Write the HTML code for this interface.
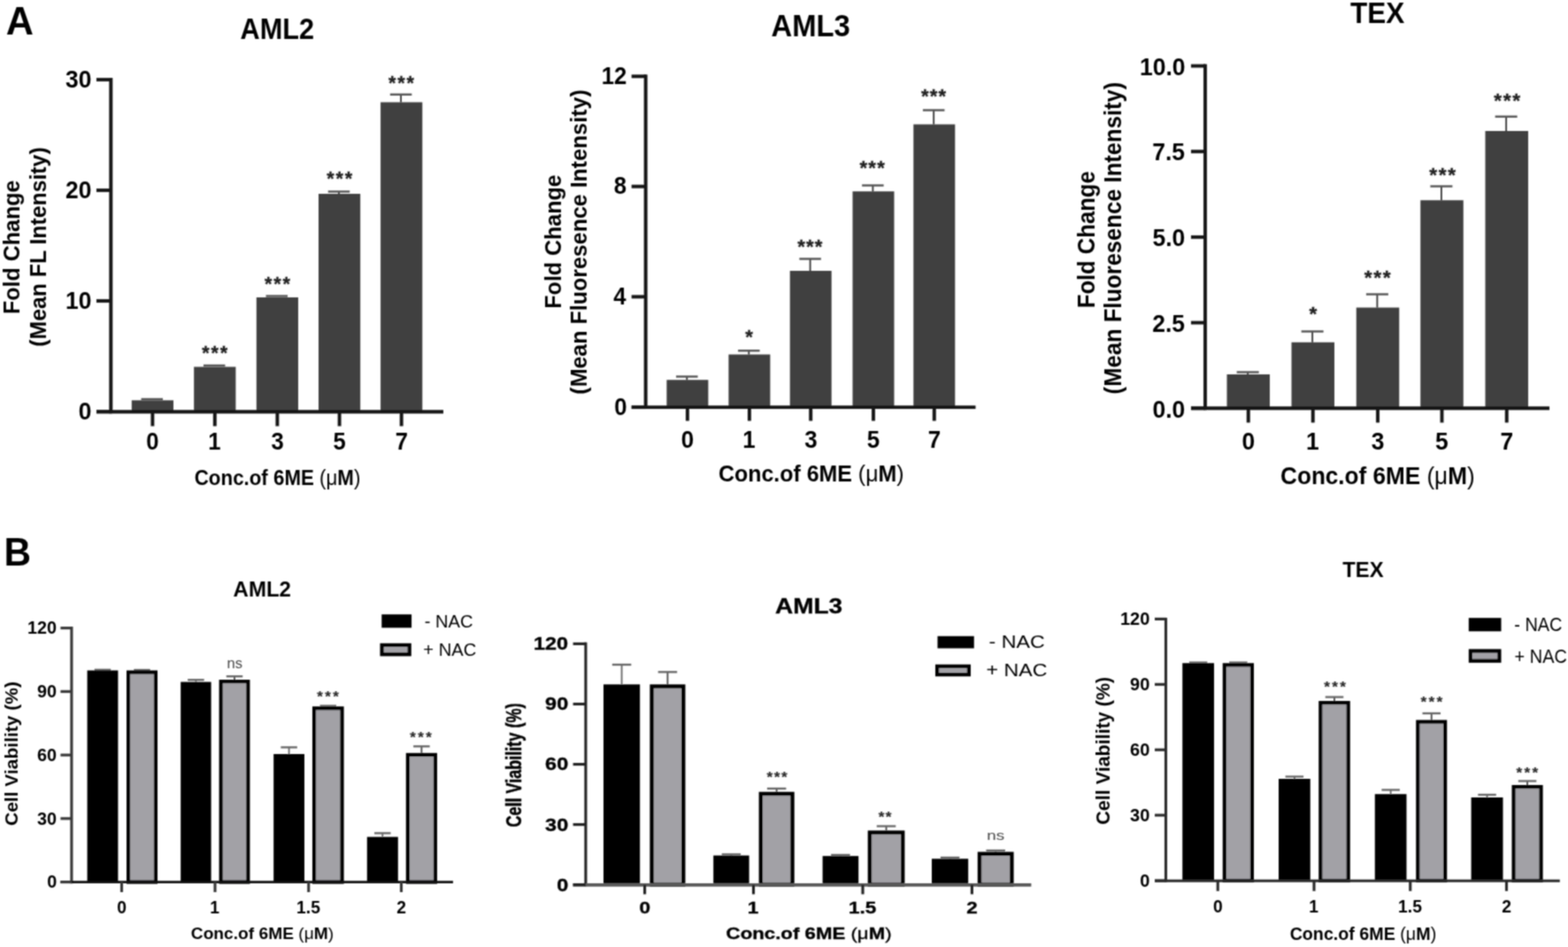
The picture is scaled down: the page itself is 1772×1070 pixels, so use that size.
<!DOCTYPE html>
<html><head><meta charset="utf-8"><style>
html,body{margin:0;padding:0;background:#fff;overflow:hidden;}
svg{display:block;}
text{font-family:"Liberation Sans",Arial,sans-serif;}
</style></head><body>
<svg width="1772" height="1070" viewBox="0 0 1772 1070">
<defs><filter id="soft" x="0" y="0" width="1772" height="1070" filterUnits="userSpaceOnUse"><feConvolveMatrix order="3" kernelMatrix="0.05090 0.12381 0.05090 0.12381 0.30116 0.12381 0.05090 0.12381 0.05090" edgeMode="none" preserveAlpha="false"/></filter></defs><rect width="1772" height="1070" fill="#fff"/>
<g filter="url(#soft)">
<rect x="148.80" y="452.30" width="47.20" height="12.90" fill="#404040"/>
<line x1="159.55" y1="451.00" x2="184.05" y2="451.00" stroke="#555" stroke-width="2.4"/>
<rect x="219.20" y="414.50" width="47.20" height="50.70" fill="#404040"/>
<line x1="229.95" y1="413.00" x2="254.45" y2="413.00" stroke="#555" stroke-width="2.4"/>
<rect x="289.80" y="336.00" width="47.20" height="129.20" fill="#404040"/>
<line x1="300.55" y1="334.50" x2="325.05" y2="334.50" stroke="#555" stroke-width="2.4"/>
<rect x="360.00" y="219.00" width="47.20" height="246.20" fill="#404040"/>
<line x1="383.00" y1="216.50" x2="383.00" y2="219.00" stroke="#333" stroke-width="1.8"/>
<line x1="370.75" y1="216.50" x2="395.25" y2="216.50" stroke="#555" stroke-width="2.4"/>
<rect x="430.10" y="115.50" width="47.20" height="349.70" fill="#404040"/>
<line x1="453.10" y1="106.80" x2="453.10" y2="115.50" stroke="#333" stroke-width="1.8"/>
<line x1="440.85" y1="106.80" x2="465.35" y2="106.80" stroke="#555" stroke-width="2.4"/>
<line x1="125.30" y1="88.05" x2="125.30" y2="467.15" stroke="#151515" stroke-width="3.9"/>
<line x1="109.00" y1="465.20" x2="501.00" y2="465.20" stroke="#151515" stroke-width="3.9"/>
<line x1="109.00" y1="465.20" x2="125.30" y2="465.20" stroke="#151515" stroke-width="3.9"/>
<line x1="109.00" y1="340.00" x2="125.30" y2="340.00" stroke="#151515" stroke-width="3.9"/>
<line x1="109.00" y1="215.00" x2="125.30" y2="215.00" stroke="#151515" stroke-width="3.9"/>
<line x1="109.00" y1="90.00" x2="125.30" y2="90.00" stroke="#151515" stroke-width="3.9"/>
<line x1="172.40" y1="465.20" x2="172.40" y2="481.50" stroke="#151515" stroke-width="3.9"/>
<line x1="242.80" y1="465.20" x2="242.80" y2="481.50" stroke="#151515" stroke-width="3.9"/>
<line x1="313.40" y1="465.20" x2="313.40" y2="481.50" stroke="#151515" stroke-width="3.9"/>
<line x1="383.60" y1="465.20" x2="383.60" y2="481.50" stroke="#151515" stroke-width="3.9"/>
<line x1="453.70" y1="465.20" x2="453.70" y2="481.50" stroke="#151515" stroke-width="3.9"/>
<rect x="753.40" y="429.25" width="47.00" height="30.85" fill="#404040"/>
<line x1="776.30" y1="425.50" x2="776.30" y2="429.25" stroke="#333" stroke-width="1.8"/>
<line x1="764.05" y1="425.50" x2="788.55" y2="425.50" stroke="#555" stroke-width="2.4"/>
<rect x="823.40" y="400.50" width="47.00" height="59.60" fill="#404040"/>
<line x1="846.30" y1="396.25" x2="846.30" y2="400.50" stroke="#333" stroke-width="1.8"/>
<line x1="834.05" y1="396.25" x2="858.55" y2="396.25" stroke="#555" stroke-width="2.4"/>
<rect x="892.70" y="306.00" width="47.00" height="154.10" fill="#404040"/>
<line x1="915.60" y1="292.50" x2="915.60" y2="306.00" stroke="#333" stroke-width="1.8"/>
<line x1="903.35" y1="292.50" x2="927.85" y2="292.50" stroke="#555" stroke-width="2.4"/>
<rect x="963.50" y="216.25" width="47.00" height="243.85" fill="#404040"/>
<line x1="986.40" y1="209.50" x2="986.40" y2="216.25" stroke="#333" stroke-width="1.8"/>
<line x1="974.15" y1="209.50" x2="998.65" y2="209.50" stroke="#555" stroke-width="2.4"/>
<rect x="1032.30" y="140.50" width="47.00" height="319.60" fill="#404040"/>
<line x1="1055.20" y1="124.50" x2="1055.20" y2="140.50" stroke="#333" stroke-width="1.8"/>
<line x1="1042.95" y1="124.50" x2="1067.45" y2="124.50" stroke="#555" stroke-width="2.4"/>
<line x1="729.70" y1="84.30" x2="729.70" y2="462.05" stroke="#151515" stroke-width="3.9"/>
<line x1="713.75" y1="460.10" x2="1102.50" y2="460.10" stroke="#151515" stroke-width="3.9"/>
<line x1="713.75" y1="460.10" x2="729.70" y2="460.10" stroke="#151515" stroke-width="3.9"/>
<line x1="713.75" y1="335.30" x2="729.70" y2="335.30" stroke="#151515" stroke-width="3.9"/>
<line x1="713.75" y1="210.70" x2="729.70" y2="210.70" stroke="#151515" stroke-width="3.9"/>
<line x1="713.75" y1="86.25" x2="729.70" y2="86.25" stroke="#151515" stroke-width="3.9"/>
<line x1="776.90" y1="460.10" x2="776.90" y2="475.50" stroke="#151515" stroke-width="3.9"/>
<line x1="846.90" y1="460.10" x2="846.90" y2="475.50" stroke="#151515" stroke-width="3.9"/>
<line x1="916.20" y1="460.10" x2="916.20" y2="475.50" stroke="#151515" stroke-width="3.9"/>
<line x1="987.00" y1="460.10" x2="987.00" y2="475.50" stroke="#151515" stroke-width="3.9"/>
<line x1="1055.80" y1="460.10" x2="1055.80" y2="475.50" stroke="#151515" stroke-width="3.9"/>
<rect x="1386.50" y="423.00" width="48.50" height="38.25" fill="#404040"/>
<line x1="1410.15" y1="420.50" x2="1410.15" y2="423.00" stroke="#333" stroke-width="1.8"/>
<line x1="1397.65" y1="420.50" x2="1422.65" y2="420.50" stroke="#555" stroke-width="2.4"/>
<rect x="1459.50" y="386.75" width="48.50" height="74.50" fill="#404040"/>
<line x1="1483.15" y1="374.50" x2="1483.15" y2="386.75" stroke="#333" stroke-width="1.8"/>
<line x1="1470.65" y1="374.50" x2="1495.65" y2="374.50" stroke="#555" stroke-width="2.4"/>
<rect x="1532.75" y="347.50" width="48.50" height="113.75" fill="#404040"/>
<line x1="1556.40" y1="332.50" x2="1556.40" y2="347.50" stroke="#333" stroke-width="1.8"/>
<line x1="1543.90" y1="332.50" x2="1568.90" y2="332.50" stroke="#555" stroke-width="2.4"/>
<rect x="1605.25" y="226.25" width="48.50" height="235.00" fill="#404040"/>
<line x1="1628.90" y1="210.50" x2="1628.90" y2="226.25" stroke="#333" stroke-width="1.8"/>
<line x1="1616.40" y1="210.50" x2="1641.40" y2="210.50" stroke="#555" stroke-width="2.4"/>
<rect x="1678.50" y="148.00" width="48.50" height="313.25" fill="#404040"/>
<line x1="1702.15" y1="131.75" x2="1702.15" y2="148.00" stroke="#333" stroke-width="1.8"/>
<line x1="1689.65" y1="131.75" x2="1714.65" y2="131.75" stroke="#555" stroke-width="2.4"/>
<line x1="1362.00" y1="72.55" x2="1362.00" y2="463.20" stroke="#151515" stroke-width="3.9"/>
<line x1="1346.00" y1="461.25" x2="1751.00" y2="461.25" stroke="#151515" stroke-width="3.9"/>
<line x1="1346.00" y1="461.25" x2="1362.00" y2="461.25" stroke="#151515" stroke-width="3.9"/>
<line x1="1346.00" y1="364.60" x2="1362.00" y2="364.60" stroke="#151515" stroke-width="3.9"/>
<line x1="1346.00" y1="267.90" x2="1362.00" y2="267.90" stroke="#151515" stroke-width="3.9"/>
<line x1="1346.00" y1="171.20" x2="1362.00" y2="171.20" stroke="#151515" stroke-width="3.9"/>
<line x1="1346.00" y1="74.50" x2="1362.00" y2="74.50" stroke="#151515" stroke-width="3.9"/>
<line x1="1410.75" y1="461.25" x2="1410.75" y2="477.50" stroke="#151515" stroke-width="3.9"/>
<line x1="1483.75" y1="461.25" x2="1483.75" y2="477.50" stroke="#151515" stroke-width="3.9"/>
<line x1="1557.00" y1="461.25" x2="1557.00" y2="477.50" stroke="#151515" stroke-width="3.9"/>
<line x1="1629.50" y1="461.25" x2="1629.50" y2="477.50" stroke="#151515" stroke-width="3.9"/>
<line x1="1702.75" y1="461.25" x2="1702.75" y2="477.50" stroke="#151515" stroke-width="3.9"/>
<line x1="116.00" y1="756.80" x2="116.00" y2="757.50" stroke="#666" stroke-width="1.8"/>
<line x1="106.75" y1="756.80" x2="125.25" y2="756.80" stroke="#666" stroke-width="2.3"/>
<rect x="98.60" y="757.50" width="34.80" height="239.10" fill="#000"/>
<line x1="221.40" y1="768.20" x2="221.40" y2="770.50" stroke="#666" stroke-width="1.8"/>
<line x1="212.15" y1="768.20" x2="230.65" y2="768.20" stroke="#666" stroke-width="2.3"/>
<rect x="204.20" y="770.50" width="34.40" height="226.10" fill="#000"/>
<line x1="326.60" y1="844.40" x2="326.60" y2="852.00" stroke="#666" stroke-width="1.8"/>
<line x1="317.35" y1="844.40" x2="335.85" y2="844.40" stroke="#666" stroke-width="2.3"/>
<rect x="309.20" y="852.00" width="34.80" height="144.60" fill="#000"/>
<line x1="432.30" y1="941.40" x2="432.30" y2="945.60" stroke="#666" stroke-width="1.8"/>
<line x1="423.05" y1="941.40" x2="441.55" y2="941.40" stroke="#666" stroke-width="2.3"/>
<rect x="414.80" y="945.60" width="35.00" height="51.00" fill="#000"/>
<line x1="160.50" y1="757.00" x2="160.50" y2="757.50" stroke="#444" stroke-width="1.8"/>
<line x1="151.25" y1="757.00" x2="169.75" y2="757.00" stroke="#666" stroke-width="2.3"/>
<rect x="145.05" y="759.55" width="30.90" height="237.05" fill="#a2a1a6" stroke="#000" stroke-width="4.1"/>
<line x1="265.00" y1="764.20" x2="265.00" y2="768.00" stroke="#444" stroke-width="1.8"/>
<line x1="255.75" y1="764.20" x2="274.25" y2="764.20" stroke="#666" stroke-width="2.3"/>
<rect x="249.65" y="770.05" width="30.70" height="226.55" fill="#a2a1a6" stroke="#000" stroke-width="4.1"/>
<line x1="370.80" y1="797.50" x2="370.80" y2="798.20" stroke="#444" stroke-width="1.8"/>
<line x1="361.55" y1="797.50" x2="380.05" y2="797.50" stroke="#666" stroke-width="2.3"/>
<rect x="355.05" y="800.25" width="31.50" height="196.35" fill="#a2a1a6" stroke="#000" stroke-width="4.1"/>
<line x1="476.40" y1="843.30" x2="476.40" y2="850.80" stroke="#444" stroke-width="1.8"/>
<line x1="467.15" y1="843.30" x2="485.65" y2="843.30" stroke="#666" stroke-width="2.3"/>
<rect x="460.85" y="852.85" width="31.10" height="143.75" fill="#a2a1a6" stroke="#000" stroke-width="4.1"/>
<line x1="80.90" y1="708.05" x2="80.90" y2="998.15" stroke="#383838" stroke-width="3.1"/>
<line x1="68.40" y1="996.60" x2="512.00" y2="996.60" stroke="#111" stroke-width="2.8"/>
<line x1="68.40" y1="996.60" x2="80.90" y2="996.60" stroke="#383838" stroke-width="3.1"/>
<line x1="68.40" y1="924.85" x2="80.90" y2="924.85" stroke="#383838" stroke-width="3.1"/>
<line x1="68.40" y1="853.10" x2="80.90" y2="853.10" stroke="#383838" stroke-width="3.1"/>
<line x1="68.40" y1="781.35" x2="80.90" y2="781.35" stroke="#383838" stroke-width="3.1"/>
<line x1="68.40" y1="709.60" x2="80.90" y2="709.60" stroke="#383838" stroke-width="3.1"/>
<line x1="137.50" y1="996.60" x2="137.50" y2="1008.00" stroke="#383838" stroke-width="3.1"/>
<line x1="243.00" y1="996.60" x2="243.00" y2="1008.00" stroke="#383838" stroke-width="3.1"/>
<line x1="348.75" y1="996.60" x2="348.75" y2="1008.00" stroke="#383838" stroke-width="3.1"/>
<line x1="453.50" y1="996.60" x2="453.50" y2="1008.00" stroke="#383838" stroke-width="3.1"/>
<rect x="431.30" y="694.20" width="33.80" height="15.10" fill="#000"/>
<rect x="431.60" y="728.90" width="31.10" height="10.40" fill="#a2a1a6" stroke="#000" stroke-width="4.2"/>
<line x1="702.60" y1="751.00" x2="702.60" y2="773.30" stroke="#666" stroke-width="1.8"/>
<line x1="691.85" y1="751.00" x2="713.35" y2="751.00" stroke="#666" stroke-width="2.3"/>
<rect x="682.00" y="773.30" width="41.20" height="226.40" fill="#000"/>
<line x1="826.40" y1="965.30" x2="826.40" y2="966.60" stroke="#666" stroke-width="1.8"/>
<line x1="815.65" y1="965.30" x2="837.15" y2="965.30" stroke="#666" stroke-width="2.3"/>
<rect x="806.20" y="966.60" width="40.40" height="33.10" fill="#000"/>
<line x1="949.90" y1="966.00" x2="949.90" y2="967.20" stroke="#666" stroke-width="1.8"/>
<line x1="939.15" y1="966.00" x2="960.65" y2="966.00" stroke="#666" stroke-width="2.3"/>
<rect x="929.60" y="967.20" width="40.60" height="32.50" fill="#000"/>
<line x1="1073.60" y1="969.00" x2="1073.60" y2="970.30" stroke="#666" stroke-width="1.8"/>
<line x1="1062.85" y1="969.00" x2="1084.35" y2="969.00" stroke="#666" stroke-width="2.3"/>
<rect x="1053.00" y="970.30" width="41.20" height="29.40" fill="#000"/>
<line x1="754.45" y1="759.30" x2="754.45" y2="773.30" stroke="#444" stroke-width="1.8"/>
<line x1="743.70" y1="759.30" x2="765.20" y2="759.30" stroke="#666" stroke-width="2.3"/>
<rect x="736.60" y="775.50" width="35.70" height="224.20" fill="#a2a1a6" stroke="#000" stroke-width="4.4"/>
<line x1="877.65" y1="891.00" x2="877.65" y2="894.70" stroke="#444" stroke-width="1.8"/>
<line x1="866.90" y1="891.00" x2="888.40" y2="891.00" stroke="#666" stroke-width="2.3"/>
<rect x="859.80" y="896.90" width="35.70" height="102.80" fill="#a2a1a6" stroke="#000" stroke-width="4.4"/>
<line x1="1001.55" y1="933.50" x2="1001.55" y2="938.40" stroke="#444" stroke-width="1.8"/>
<line x1="990.80" y1="933.50" x2="1012.30" y2="933.50" stroke="#666" stroke-width="2.3"/>
<rect x="982.90" y="940.60" width="37.30" height="59.10" fill="#a2a1a6" stroke="#000" stroke-width="4.4"/>
<line x1="1125.20" y1="961.00" x2="1125.20" y2="962.50" stroke="#444" stroke-width="1.8"/>
<line x1="1114.45" y1="961.00" x2="1135.95" y2="961.00" stroke="#666" stroke-width="2.3"/>
<rect x="1107.00" y="964.70" width="36.40" height="35.00" fill="#a2a1a6" stroke="#000" stroke-width="4.4"/>
<line x1="661.90" y1="725.85" x2="661.90" y2="1001.25" stroke="#222" stroke-width="3.1"/>
<line x1="647.60" y1="999.90" x2="1165.40" y2="999.90" stroke="#5a5a5a" stroke-width="3.6"/>
<line x1="647.60" y1="999.70" x2="661.90" y2="999.70" stroke="#222" stroke-width="3.1"/>
<line x1="647.60" y1="931.63" x2="661.90" y2="931.63" stroke="#222" stroke-width="3.1"/>
<line x1="647.60" y1="863.56" x2="661.90" y2="863.56" stroke="#222" stroke-width="3.1"/>
<line x1="647.60" y1="795.49" x2="661.90" y2="795.49" stroke="#222" stroke-width="3.1"/>
<line x1="647.60" y1="727.42" x2="661.90" y2="727.42" stroke="#222" stroke-width="3.1"/>
<line x1="728.60" y1="999.70" x2="728.60" y2="1010.40" stroke="#222" stroke-width="3.1"/>
<line x1="851.50" y1="999.70" x2="851.50" y2="1010.40" stroke="#222" stroke-width="3.1"/>
<line x1="975.00" y1="999.70" x2="975.00" y2="1010.40" stroke="#222" stroke-width="3.1"/>
<line x1="1098.40" y1="999.70" x2="1098.40" y2="1010.40" stroke="#222" stroke-width="3.1"/>
<rect x="1059.50" y="718.75" width="41.25" height="13.75" fill="#000"/>
<rect x="1059.10" y="752.85" width="35.80" height="9.30" fill="#a2a1a6" stroke="#000" stroke-width="4.2"/>
<line x1="1354.12" y1="748.50" x2="1354.12" y2="749.25" stroke="#666" stroke-width="1.8"/>
<line x1="1343.88" y1="748.50" x2="1364.38" y2="748.50" stroke="#666" stroke-width="2.3"/>
<rect x="1336.25" y="749.25" width="35.75" height="245.75" fill="#000"/>
<line x1="1462.88" y1="877.50" x2="1462.88" y2="880.00" stroke="#666" stroke-width="1.8"/>
<line x1="1452.62" y1="877.50" x2="1473.12" y2="877.50" stroke="#666" stroke-width="2.3"/>
<rect x="1445.00" y="880.00" width="35.75" height="115.00" fill="#000"/>
<line x1="1571.62" y1="892.50" x2="1571.62" y2="897.25" stroke="#666" stroke-width="1.8"/>
<line x1="1561.38" y1="892.50" x2="1581.88" y2="892.50" stroke="#666" stroke-width="2.3"/>
<rect x="1553.75" y="897.25" width="35.75" height="97.75" fill="#000"/>
<line x1="1680.55" y1="898.00" x2="1680.55" y2="901.00" stroke="#666" stroke-width="1.8"/>
<line x1="1670.30" y1="898.00" x2="1690.80" y2="898.00" stroke="#666" stroke-width="2.3"/>
<rect x="1662.60" y="901.00" width="35.90" height="94.00" fill="#000"/>
<line x1="1399.38" y1="748.50" x2="1399.38" y2="749.25" stroke="#444" stroke-width="1.8"/>
<line x1="1389.12" y1="748.50" x2="1409.62" y2="748.50" stroke="#666" stroke-width="2.3"/>
<rect x="1383.80" y="751.30" width="31.15" height="243.70" fill="#a2a1a6" stroke="#000" stroke-width="4.1"/>
<line x1="1508.00" y1="787.60" x2="1508.00" y2="792.00" stroke="#444" stroke-width="1.8"/>
<line x1="1497.75" y1="787.60" x2="1518.25" y2="787.60" stroke="#666" stroke-width="2.3"/>
<rect x="1492.30" y="794.05" width="31.40" height="200.95" fill="#a2a1a6" stroke="#000" stroke-width="4.1"/>
<line x1="1617.75" y1="806.00" x2="1617.75" y2="813.50" stroke="#444" stroke-width="1.8"/>
<line x1="1607.50" y1="806.00" x2="1628.00" y2="806.00" stroke="#666" stroke-width="2.3"/>
<rect x="1602.30" y="815.55" width="30.90" height="179.45" fill="#a2a1a6" stroke="#000" stroke-width="4.1"/>
<line x1="1726.05" y1="882.50" x2="1726.05" y2="887.00" stroke="#444" stroke-width="1.8"/>
<line x1="1715.80" y1="882.50" x2="1736.30" y2="882.50" stroke="#666" stroke-width="2.3"/>
<rect x="1710.55" y="889.05" width="31.00" height="105.95" fill="#a2a1a6" stroke="#000" stroke-width="4.1"/>
<line x1="1317.50" y1="697.95" x2="1317.50" y2="996.55" stroke="#2a2a2a" stroke-width="3.1"/>
<line x1="1305.00" y1="995.30" x2="1762.75" y2="995.30" stroke="#2a2a2a" stroke-width="3.0"/>
<line x1="1305.00" y1="995.00" x2="1317.50" y2="995.00" stroke="#2a2a2a" stroke-width="3.1"/>
<line x1="1305.00" y1="921.10" x2="1317.50" y2="921.10" stroke="#2a2a2a" stroke-width="3.1"/>
<line x1="1305.00" y1="847.20" x2="1317.50" y2="847.20" stroke="#2a2a2a" stroke-width="3.1"/>
<line x1="1305.00" y1="773.30" x2="1317.50" y2="773.30" stroke="#2a2a2a" stroke-width="3.1"/>
<line x1="1305.00" y1="699.40" x2="1317.50" y2="699.40" stroke="#2a2a2a" stroke-width="3.1"/>
<line x1="1376.25" y1="995.00" x2="1376.25" y2="1006.75" stroke="#2a2a2a" stroke-width="3.1"/>
<line x1="1485.00" y1="995.00" x2="1485.00" y2="1006.75" stroke="#2a2a2a" stroke-width="3.1"/>
<line x1="1593.75" y1="995.00" x2="1593.75" y2="1006.75" stroke="#2a2a2a" stroke-width="3.1"/>
<line x1="1702.50" y1="995.00" x2="1702.50" y2="1006.75" stroke="#2a2a2a" stroke-width="3.1"/>
<rect x="1659.80" y="698.20" width="36.70" height="15.10" fill="#000"/>
<rect x="1661.90" y="735.50" width="32.50" height="11.20" fill="#a2a1a6" stroke="#000" stroke-width="4.2"/>
<text x="-16.20" y="15.75" font-size="45" font-weight="700" transform="translate(22.20 22.90) scale(0.96 1)">A</text>
<text x="-7.65" y="9.59" font-size="27.8" font-weight="700" transform="translate(96.09 464.30) scale(0.95 1)">0</text>
<text x="-15.71" y="9.59" font-size="27.8" font-weight="700" transform="translate(88.96 339.10) scale(0.95 1)">10</text>
<text x="-15.29" y="9.59" font-size="27.8" font-weight="700" transform="translate(88.57 214.10) scale(0.95 1)">20</text>
<text x="-15.15" y="9.59" font-size="27.8" font-weight="700" transform="translate(88.43 89.10) scale(0.95 1)">30</text>
<text x="-7.43" y="9.31" font-size="27" font-weight="700" transform="translate(172.40 499.00) scale(0.95 1)">0</text>
<text x="-7.97" y="9.31" font-size="27" font-weight="700" transform="translate(242.80 499.00) scale(0.95 1)">1</text>
<text x="-7.29" y="9.31" font-size="27" font-weight="700" transform="translate(313.40 499.00) scale(0.95 1)">3</text>
<text x="-7.56" y="9.18" font-size="27" font-weight="700" transform="translate(383.60 499.00) scale(0.95 1)">5</text>
<text x="-7.43" y="9.45" font-size="27" font-weight="700" transform="translate(453.70 499.00) scale(0.95 1)">7</text>
<text x="-43.77" y="11.30" font-size="32.3" font-weight="700" transform="translate(313.10 33.00) scale(0.95 1)">AML2</text>
<text x="-98.58" y="6.11" font-size="23.5" font-weight="700" transform="translate(313.40 542.10) scale(0.95 1)">Conc.of 6ME <tspan font-weight="400">(μ</tspan>M<tspan font-weight="400">)</tspan></text>
<text x="-76.12" y="6.50" font-size="25" font-weight="700" transform="translate(15.40 278.80) scale(1.03 1) rotate(-90)">Fold Change</text>
<text x="-112.72" y="6.45" font-size="24.8" font-weight="700" transform="translate(44.95 279.00) scale(1.03 1) rotate(-90)">(Mean FL Intensity)</text>
<text x="-14.49" y="10.92" font-size="21.62" font-weight="700" fill="#202020" letter-spacing="1.89" stroke="#202020" stroke-width="0.3" transform="translate(242.75 395.00)">***</text>
<text x="-14.49" y="10.92" font-size="21.62" font-weight="700" fill="#202020" letter-spacing="1.89" stroke="#202020" stroke-width="0.3" transform="translate(313.50 316.75)">***</text>
<text x="-14.49" y="10.92" font-size="21.62" font-weight="700" fill="#202020" letter-spacing="1.89" stroke="#202020" stroke-width="0.3" transform="translate(383.75 198.25)">***</text>
<text x="-14.49" y="10.92" font-size="21.62" font-weight="700" fill="#202020" letter-spacing="1.89" stroke="#202020" stroke-width="0.3" transform="translate(453.50 89.90)">***</text>
<text x="-7.37" y="9.25" font-size="26.8" font-weight="700" transform="translate(701.25 459.30) scale(0.96 1)">0</text>
<text x="-7.64" y="9.25" font-size="26.8" font-weight="700" transform="translate(700.48 334.50) scale(0.96 1)">4</text>
<text x="-7.50" y="9.25" font-size="26.8" font-weight="700" transform="translate(700.87 209.90) scale(0.96 1)">8</text>
<text x="-15.14" y="9.38" font-size="26.8" font-weight="700" transform="translate(694.31 85.45) scale(0.96 1)">12</text>
<text x="-7.43" y="9.31" font-size="27" font-weight="700" transform="translate(776.90 496.90) scale(0.96 1)">0</text>
<text x="-7.97" y="9.31" font-size="27" font-weight="700" transform="translate(846.90 496.90) scale(0.96 1)">1</text>
<text x="-7.29" y="9.31" font-size="27" font-weight="700" transform="translate(916.20 496.90) scale(0.96 1)">3</text>
<text x="-7.56" y="9.18" font-size="27" font-weight="700" transform="translate(987.00 496.90) scale(0.96 1)">5</text>
<text x="-7.43" y="9.45" font-size="27" font-weight="700" transform="translate(1055.80 496.90) scale(0.96 1)">7</text>
<text x="-46.34" y="11.80" font-size="34.2" font-weight="700" transform="translate(916.00 29.30) scale(0.96 1)">AML3</text>
<text x="-109.07" y="6.76" font-size="26" font-weight="700" transform="translate(916.60 536.90) scale(0.96 1)">Conc.of 6ME <tspan font-weight="400">(μ</tspan>M<tspan font-weight="400">)</tspan></text>
<text x="-76.12" y="6.50" font-size="25" font-weight="700" transform="translate(627.10 272.55) scale(1.05 1) rotate(-90)">Fold Change</text>
<text x="-172.25" y="6.50" font-size="25" font-weight="700" transform="translate(656.50 273.45) scale(1.05 1) rotate(-90)">(Mean Fluoresence Intensity)</text>
<text x="-4.32" y="11.19" font-size="22.16" font-weight="700" fill="#202020" letter-spacing="1.18" stroke="#202020" stroke-width="0.3" transform="translate(846.50 377.00)">*</text>
<text x="-14.07" y="11.19" font-size="22.16" font-weight="700" fill="#202020" letter-spacing="1.18" stroke="#202020" stroke-width="0.3" transform="translate(915.25 274.40)">***</text>
<text x="-14.07" y="11.19" font-size="22.16" font-weight="700" fill="#202020" letter-spacing="1.18" stroke="#202020" stroke-width="0.3" transform="translate(985.60 185.40)">***</text>
<text x="-14.07" y="11.19" font-size="22.16" font-weight="700" fill="#202020" letter-spacing="1.18" stroke="#202020" stroke-width="0.3" transform="translate(1055.00 105.25)">***</text>
<text x="-19.18" y="9.52" font-size="27.6" font-weight="700" transform="translate(1320.90 462.05) scale(0.96 1)">0.0</text>
<text x="-19.18" y="9.52" font-size="27.6" font-weight="700" transform="translate(1320.63 365.40) scale(0.96 1)">2.5</text>
<text x="-19.04" y="9.52" font-size="27.6" font-weight="700" transform="translate(1320.76 268.70) scale(0.96 1)">5.0</text>
<text x="-19.32" y="9.38" font-size="27.6" font-weight="700" transform="translate(1320.76 172.00) scale(0.96 1)">7.5</text>
<text x="-27.05" y="9.52" font-size="27.6" font-weight="700" transform="translate(1313.87 75.30) scale(0.96 1)">10.0</text>
<text x="-7.56" y="9.49" font-size="27.5" font-weight="700" transform="translate(1410.75 498.75) scale(0.96 1)">0</text>
<text x="-8.11" y="9.49" font-size="27.5" font-weight="700" transform="translate(1483.75 498.75) scale(0.96 1)">1</text>
<text x="-7.43" y="9.49" font-size="27.5" font-weight="700" transform="translate(1557.00 498.75) scale(0.96 1)">3</text>
<text x="-7.70" y="9.35" font-size="27.5" font-weight="700" transform="translate(1629.50 498.75) scale(0.96 1)">5</text>
<text x="-7.56" y="9.62" font-size="27.5" font-weight="700" transform="translate(1702.75 498.75) scale(0.96 1)">7</text>
<text x="-31.82" y="11.32" font-size="32.8" font-weight="700" transform="translate(1556.50 15.00) scale(0.96 1)">TEX</text>
<text x="-114.10" y="7.07" font-size="27.2" font-weight="700" transform="translate(1556.60 540.00) scale(0.96 1)">Conc.of 6ME <tspan font-weight="400">(μ</tspan>M<tspan font-weight="400">)</tspan></text>
<text x="-77.95" y="6.66" font-size="25.6" font-weight="700" transform="translate(1229.40 270.30) scale(1.09 1) rotate(-90)">Fold Change</text>
<text x="-176.38" y="6.66" font-size="25.6" font-weight="700" transform="translate(1259.90 269.00) scale(1.09 1) rotate(-90)">(Mean Fluoresence Intensity)</text>
<text x="-4.43" y="11.46" font-size="22.7" font-weight="700" fill="#202020" letter-spacing="1.67" stroke="#202020" stroke-width="0.3" transform="translate(1484.00 351.00)">*</text>
<text x="-14.87" y="11.46" font-size="22.7" font-weight="700" fill="#202020" letter-spacing="1.67" stroke="#202020" stroke-width="0.3" transform="translate(1556.50 309.40)">***</text>
<text x="-14.87" y="11.46" font-size="22.7" font-weight="700" fill="#202020" letter-spacing="1.67" stroke="#202020" stroke-width="0.3" transform="translate(1630.00 193.25)">***</text>
<text x="-14.87" y="11.46" font-size="22.7" font-weight="700" fill="#202020" letter-spacing="1.67" stroke="#202020" stroke-width="0.3" transform="translate(1703.00 109.85)">***</text>
<text x="-16.69" y="15.35" font-size="44.5" font-weight="700" transform="translate(20.45 624.00) scale(0.95 1)">B</text>
<text x="-5.45" y="6.83" font-size="19.8" font-weight="700" transform="translate(58.65 996.60)">0</text>
<text x="-10.79" y="6.83" font-size="19.8" font-weight="700" transform="translate(52.90 924.85)">30</text>
<text x="-10.99" y="6.83" font-size="19.8" font-weight="700" transform="translate(53.10 853.10)">60</text>
<text x="-10.99" y="6.83" font-size="19.8" font-weight="700" transform="translate(53.10 781.35)">90</text>
<text x="-16.73" y="6.83" font-size="19.8" font-weight="700" transform="translate(47.76 709.60)">120</text>
<text x="-5.31" y="6.66" font-size="19.3" font-weight="700" transform="translate(137.50 1025.10)">0</text>
<text x="-5.69" y="6.66" font-size="19.3" font-weight="700" transform="translate(243.00 1025.10)">1</text>
<text x="-13.70" y="6.56" font-size="19.3" font-weight="700" transform="translate(348.75 1025.10)">1.5</text>
<text x="-5.31" y="6.75" font-size="19.3" font-weight="700" transform="translate(453.50 1025.10)">2</text>
<text x="-32.52" y="8.40" font-size="24" font-weight="700" transform="translate(296.10 665.60)">AML2</text>
<text x="-80.54" y="4.99" font-size="19.2" font-weight="700" transform="translate(296.30 1056.30)">Conc.of 6ME <tspan font-weight="400">(μ</tspan>M<tspan font-weight="400">)</tspan></text>
<text x="-81.38" y="5.46" font-size="21" font-weight="700" transform="translate(14.50 851.60) rotate(-90)">Cell Viability (%)</text>
<text x="-8.99" y="4.37" font-size="16.5" font-weight="400" fill="#444" transform="translate(265.60 750.80)">ns</text>
<text x="-12.26" y="8.60" font-size="17.03" font-weight="700" fill="#2a2a2a" letter-spacing="2.38" stroke="#2a2a2a" stroke-width="0.2" transform="translate(370.60 784.20)">***</text>
<text x="-12.26" y="8.60" font-size="17.03" font-weight="700" fill="#2a2a2a" letter-spacing="2.38" stroke="#2a2a2a" stroke-width="0.2" transform="translate(475.50 830.40)">***</text>
<text x="-28.29" y="7.18" font-size="20.8" font-weight="400" transform="translate(507.10 702.20) scale(0.97 1)">- NAC</text>
<text x="-30.99" y="7.18" font-size="20.8" font-weight="400" transform="translate(508.30 734.30) scale(0.97 1)">+ NAC</text>
<text x="-5.47" y="6.87" font-size="19.9" font-weight="700" stroke="#000" stroke-width="0.35" transform="translate(635.68 999.70) scale(1.18 1)">0</text>
<text x="-10.85" y="6.87" font-size="19.9" font-weight="700" stroke="#000" stroke-width="0.35" transform="translate(628.87 931.63) scale(1.18 1)">30</text>
<text x="-11.04" y="6.87" font-size="19.9" font-weight="700" stroke="#000" stroke-width="0.35" transform="translate(629.11 863.56) scale(1.18 1)">60</text>
<text x="-11.04" y="6.87" font-size="19.9" font-weight="700" stroke="#000" stroke-width="0.35" transform="translate(629.11 795.49) scale(1.18 1)">90</text>
<text x="-16.82" y="6.87" font-size="19.9" font-weight="700" stroke="#000" stroke-width="0.35" transform="translate(622.77 727.42) scale(1.18 1)">120</text>
<text x="-5.25" y="6.59" font-size="19.1" font-weight="700" stroke="#000" stroke-width="0.35" transform="translate(728.60 1025.30) scale(1.18 1)">0</text>
<text x="-5.63" y="6.59" font-size="19.1" font-weight="700" stroke="#000" stroke-width="0.35" transform="translate(851.50 1025.30) scale(1.18 1)">1</text>
<text x="-13.56" y="6.49" font-size="19.1" font-weight="700" stroke="#000" stroke-width="0.35" transform="translate(975.00 1025.30) scale(1.18 1)">1.5</text>
<text x="-5.25" y="6.69" font-size="19.1" font-weight="700" stroke="#000" stroke-width="0.35" transform="translate(1098.40 1025.30) scale(1.18 1)">2</text>
<text x="-32.11" y="8.18" font-size="23.7" font-weight="700" stroke="#000" stroke-width="0.35" transform="translate(913.90 685.10) scale(1.18 1)">AML3</text>
<text x="-79.08" y="4.90" font-size="18.85" font-weight="700" stroke="#000" stroke-width="0.35" transform="translate(913.90 1056.20) scale(1.18 1)">Conc.of 6ME <tspan font-weight="400">(μ</tspan>M<tspan font-weight="400">)</tspan></text>
<text x="-69.94" y="4.69" font-size="18.05" font-weight="700" stroke="#000" stroke-width="0.35" transform="translate(582.90 864.60) scale(1.28 1) rotate(-90)">Cell Viability (%)</text>
<text x="-11.50" y="8.74" font-size="17.3" font-weight="700" fill="#2a2a2a" letter-spacing="1.47" stroke="#2a2a2a" stroke-width="0.2" transform="translate(878.00 875.70)">***</text>
<text x="-7.44" y="8.74" font-size="17.3" font-weight="700" fill="#2a2a2a" letter-spacing="1.47" stroke="#2a2a2a" stroke-width="0.2" transform="translate(1000.10 920.10)">**</text>
<text x="-7.90" y="3.84" font-size="14.5" font-weight="400" fill="#444" transform="translate(1125.50 944.70) scale(1.3 1)">ns</text>
<text x="-26.79" y="6.80" font-size="19.7" font-weight="400" transform="translate(1149.10 725.50) scale(1.18 1)">- NAC</text>
<text x="-29.35" y="6.80" font-size="19.7" font-weight="400" transform="translate(1149.10 757.60) scale(1.18 1)">+ NAC</text>
<text x="-5.50" y="6.90" font-size="20" font-weight="700" transform="translate(1293.80 995.00)">0</text>
<text x="-10.90" y="6.90" font-size="20" font-weight="700" transform="translate(1288.00 921.10)">30</text>
<text x="-11.10" y="6.90" font-size="20" font-weight="700" transform="translate(1288.20 847.20)">60</text>
<text x="-11.10" y="6.90" font-size="20" font-weight="700" transform="translate(1288.20 773.30)">90</text>
<text x="-16.90" y="6.90" font-size="20" font-weight="700" transform="translate(1282.80 699.40)">120</text>
<text x="-5.31" y="6.66" font-size="19.3" font-weight="700" transform="translate(1376.25 1024.25)">0</text>
<text x="-5.69" y="6.66" font-size="19.3" font-weight="700" transform="translate(1485.00 1024.25)">1</text>
<text x="-13.70" y="6.56" font-size="19.3" font-weight="700" transform="translate(1593.75 1024.25)">1.5</text>
<text x="-5.31" y="6.75" font-size="19.3" font-weight="700" transform="translate(1702.50 1024.25)">2</text>
<text x="-23.09" y="8.21" font-size="23.8" font-weight="700" transform="translate(1540.40 644.25)">TEX</text>
<text x="-82.64" y="5.12" font-size="19.7" font-weight="700" transform="translate(1540.25 1056.75)">Conc.of 6ME <tspan font-weight="400">(μ</tspan>M<tspan font-weight="400">)</tspan></text>
<text x="-83.31" y="5.59" font-size="21.5" font-weight="700" transform="translate(1248.10 848.40) rotate(-90)">Cell Viability (%)</text>
<text x="-12.37" y="8.74" font-size="17.3" font-weight="700" fill="#2a2a2a" letter-spacing="2.27" stroke="#2a2a2a" stroke-width="0.2" transform="translate(1508.50 773.50)">***</text>
<text x="-12.37" y="8.74" font-size="17.3" font-weight="700" fill="#2a2a2a" letter-spacing="2.27" stroke="#2a2a2a" stroke-width="0.2" transform="translate(1617.90 790.00)">***</text>
<text x="-12.37" y="8.74" font-size="17.3" font-weight="700" fill="#2a2a2a" letter-spacing="2.27" stroke="#2a2a2a" stroke-width="0.2" transform="translate(1725.90 870.00)">***</text>
<text x="-28.83" y="7.31" font-size="21.2" font-weight="400" transform="translate(1738.30 706.00) scale(0.94 1)">- NAC</text>
<text x="-31.59" y="7.31" font-size="21.2" font-weight="400" transform="translate(1741.30 741.20) scale(0.94 1)">+ NAC</text>
</g>
</svg></body></html>
